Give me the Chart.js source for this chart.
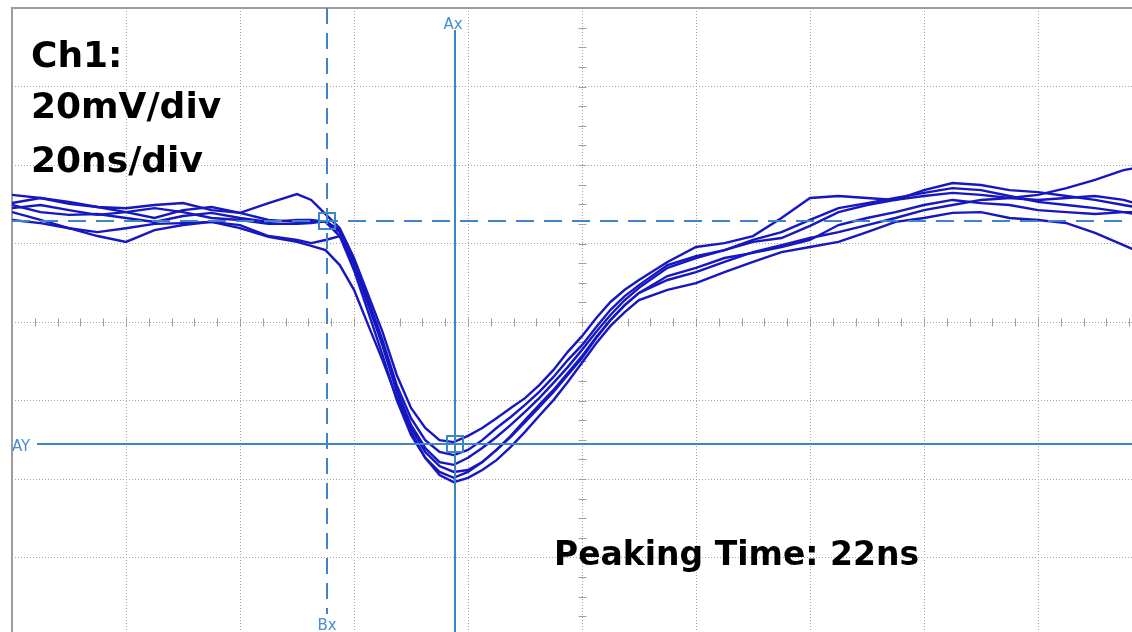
<!DOCTYPE html>
<html><head><meta charset="utf-8">
<script src="https://cdn.jsdelivr.net/npm/chart.js@4.4.0/dist/chart.umd.min.js"></script>
<style>
html,body{margin:0;padding:0;background:#fff;overflow:hidden;width:1132px;height:632px;}
#wrap{position:absolute;left:0;top:0;width:1160px;height:644px;}
canvas{display:block;}
</style></head><body>
<div id="wrap"><canvas id="c" width="1160" height="644"></canvas></div>
<script>
// time axis (ns), 20 ns/div
const timeNs = [-100,-95,-90,-85,-80,-75,-70,-65,-60,-55,-50,-47.5,-45,-42.5,-40,-37.5,-35,-32.5,-30,-27.5,-25,-22.5,-20,-17.5,-15,-12.5,-10,-7.5,-5,-2.5,0,2.5,5,7.5,10,15,20,25,30,35,40,45,50,55,60,65,70,75,80,85,90,95,97];
// traces (mV), 20 mV/div
const trace1 = [32.4,31.6,30.1,29.3,29.0,29.8,30.3,28.5,27.8,30.3,32.6,31.1,27.5,23.9,16.3,6.9,-2.5,-13.5,-21.9,-27.0,-30.1,-30.6,-29.0,-27.0,-24.5,-21.9,-19.4,-16.1,-12.2,-7.6,-3.6,1.0,5.1,8.2,10.7,15.3,19.1,20.1,21.9,26.5,31.6,32.1,31.6,31.1,33.6,35.4,34.9,33.6,33.1,32.1,31.1,29.8,29.3];
const trace2 = [30.3,31.6,30.6,29.3,28.0,26.5,28.5,29.3,27.8,26.0,25.5,25.5,25.7,22.9,14.5,4.3,-5.9,-17.3,-26.2,-32.1,-35.7,-36.4,-34.6,-32.1,-29.3,-26.2,-22.9,-19.4,-15.5,-11.5,-7.1,-2.5,1.8,5.6,8.7,13.8,16.3,18.3,20.4,21.4,24.5,28.0,29.8,31.1,32.1,32.9,32.4,31.6,31.1,31.6,32.1,31.1,30.3];
const trace3 = [28.0,26.0,23.9,21.9,20.4,23.4,24.7,25.5,24.7,21.9,20.9,20.1,20.9,21.9,15.3,5.1,-5.9,-17.8,-28.0,-34.6,-39.0,-40.8,-39.7,-37.7,-35.2,-31.8,-28.0,-23.9,-19.9,-15.3,-10.4,-5.4,-1.0,2.5,5.6,8.2,9.9,12.7,15.3,17.8,19.1,20.4,22.9,25.5,26.5,27.8,28.0,26.5,26.0,25.2,22.7,19.6,18.3];
const trace4 = [26.0,25.2,23.9,22.9,23.9,25.0,25.2,25.5,23.9,21.7,20.4,19.4,18.3,14.5,8.2,-0.8,-9.7,-19.4,-27.0,-33.1,-36.7,-38.2,-37.7,-35.7,-32.6,-29.0,-25.0,-21.1,-17.3,-13.0,-8.7,-3.8,0.5,4.3,7.4,11.7,13.8,16.3,17.6,19.1,20.9,24.7,26.5,28.0,29.8,31.1,30.3,29.8,28.5,28.0,27.5,28.0,28.0];
const trace5 = [29.8,28.0,27.3,27.5,26.5,25.5,27.0,27.8,26.5,25.5,26.0,26.0,25.5,21.9,13.2,2.5,-8.4,-19.9,-28.8,-34.6,-38.2,-39.7,-38.2,-35.7,-32.6,-29.3,-25.5,-21.7,-17.8,-13.5,-9.2,-4.1,0.5,4.3,7.4,10.7,12.7,15.3,17.8,19.6,21.4,22.9,24.7,26.5,28.5,29.8,31.1,31.6,32.4,34.1,36.2,38.7,39.2];
const trace6 = [29.0,29.8,28.5,27.3,28.0,29.0,28.0,26.5,26.0,25.0,25.0,25.2,25.7,23.4,15.3,5.6,-4.6,-16.1,-24.5,-30.1,-33.1,-33.9,-32.6,-30.1,-27.0,-24.2,-21.1,-17.8,-14.0,-9.7,-5.9,-1.3,3.1,6.6,9.4,14.5,16.8,18.3,20.9,22.9,26.0,29.0,30.3,31.6,32.9,34.1,33.6,32.1,30.6,29.8,29.0,28.0,27.5];
const traces = [trace1, trace2, trace3, trace4, trace5, trace6];

// screen / cursor settings
const xRange = [-100, 100];       // 10 div x 20 ns
const yRange = [-80, 80];         // 8 div x 20 mV
const divNs = 20, divMv = 20;
const minorNs = 4, minorMv = 5;
const cursorBx = -44.7, cursorAx = -22.3;   // ns
const cursorBy = 25.7, cursorAy = -31.1;    // mV
const infoLines = ['Ch1:', '20mV/div', '20ns/div'];
const peakText = 'Peaking Time: 22ns';

const traceColor = '#1717c2';
const cursorColor = '#3d84c8';

const datasets = traces.map(t => ({
  data: timeNs.map((x, i) => ({x: x, y: t[i]})),
  borderColor: traceColor,
  borderWidth: 2.4,
  pointRadius: 0,
  tension: 0,
  fill: false
}));

const scopePlugin = {
  id: 'scope',
  beforeDatasetsDraw(chart) {
    const {ctx, chartArea: a, scales: {x: xs, y: ys}} = chart;
    ctx.save();
    ctx.strokeStyle = '#a0a0a0';
    ctx.lineWidth = 1;
    const x0 = Math.round(xs.getPixelForValue(0)) + 0.5;
    const y0 = Math.round(ys.getPixelForValue(0)) + 0.5;
    ctx.beginPath();
    for (let v = xRange[0]; v <= xRange[1]; v += minorNs) {
      const px = Math.round(xs.getPixelForValue(v)) + 0.5;
      ctx.moveTo(px, y0 - 4); ctx.lineTo(px, y0 + 4);
    }
    for (let v = yRange[0]; v <= yRange[1]; v += minorMv) {
      const py = Math.round(ys.getPixelForValue(v)) + 0.5;
      ctx.moveTo(x0 - 4, py); ctx.lineTo(x0 + 4, py);
    }
    ctx.stroke();
    ctx.strokeStyle = '#9c9c9c';
    ctx.lineWidth = 2;
    ctx.beginPath();
    ctx.moveTo(a.left, a.bottom); ctx.lineTo(a.left, a.top); ctx.lineTo(a.right, a.top);
    ctx.stroke();
    ctx.restore();
  },
  afterDatasetsDraw(chart) {
    const {ctx, chartArea: a, scales: {x: xs, y: ys}} = chart;
    ctx.save();
    const bx = Math.round(xs.getPixelForValue(cursorBx));
    const ax = Math.round(xs.getPixelForValue(cursorAx));
    const by = Math.round(ys.getPixelForValue(cursorBy));
    const ay = Math.round(ys.getPixelForValue(cursorAy));
    ctx.strokeStyle = cursorColor;
    ctx.lineWidth = 2;
    ctx.setLineDash([16, 9]);
    ctx.beginPath(); ctx.moveTo(bx, a.top); ctx.lineTo(bx, 614); ctx.stroke();
    ctx.setLineDash([18, 10]);
    ctx.beginPath(); ctx.moveTo(a.left, by); ctx.lineTo(a.right, by); ctx.stroke();
    ctx.setLineDash([]);
    ctx.beginPath(); ctx.moveTo(ax, 30); ctx.lineTo(ax, a.bottom); ctx.stroke();
    ctx.beginPath(); ctx.moveTo(37, ay); ctx.lineTo(a.right, ay); ctx.stroke();
    ctx.strokeRect(bx - 8, by - 8, 16, 16);
    ctx.strokeRect(ax - 8, ay - 8, 16, 16);
    ctx.fillStyle = '#4a8ed0';
    ctx.font = '15px "DejaVu Sans"';
    ctx.textBaseline = 'alphabetic';
    ctx.textAlign = 'center';
    ctx.fillText('Ax', ax - 2, 29);
    ctx.fillText('Bx', bx, 630);
    ctx.textAlign = 'left';
    ctx.fillText('AY', 12, 451);
    ctx.fillStyle = '#000';
    ctx.font = 'bold 36px "DejaVu Sans"';
    ctx.fillText(infoLines[0], 31, 67);
    ctx.fillText(infoLines[1], 31, 118);
    ctx.fillText(infoLines[2], 31, 172);
    ctx.font = 'bold 33px "DejaVu Sans"';
    ctx.fillText(peakText, 554, 565);
    ctx.restore();
  }
};

new Chart(document.getElementById('c'), {
  type: 'line',
  data: {datasets},
  options: {
    responsive: false,
    devicePixelRatio: 1,
    animation: false,
    layout: {padding: {left: 12, top: 8, right: 8, bottom: 8}},
    plugins: {legend: {display: false}, tooltip: {enabled: false}},
    scales: {
      x: {
        type: 'linear', min: xRange[0], max: xRange[1],
        ticks: {stepSize: divNs, display: false},
        grid: {color: '#a4a4a4', lineWidth: 1, drawTicks: false},
        border: {display: false, dash: [1, 2]}
      },
      y: {
        type: 'linear', min: yRange[0], max: yRange[1],
        ticks: {stepSize: divMv, display: false},
        grid: {color: '#a4a4a4', lineWidth: 1, drawTicks: false},
        border: {display: false, dash: [1, 2]}
      }
    }
  },
  plugins: [scopePlugin]
});
</script>
</body></html>
